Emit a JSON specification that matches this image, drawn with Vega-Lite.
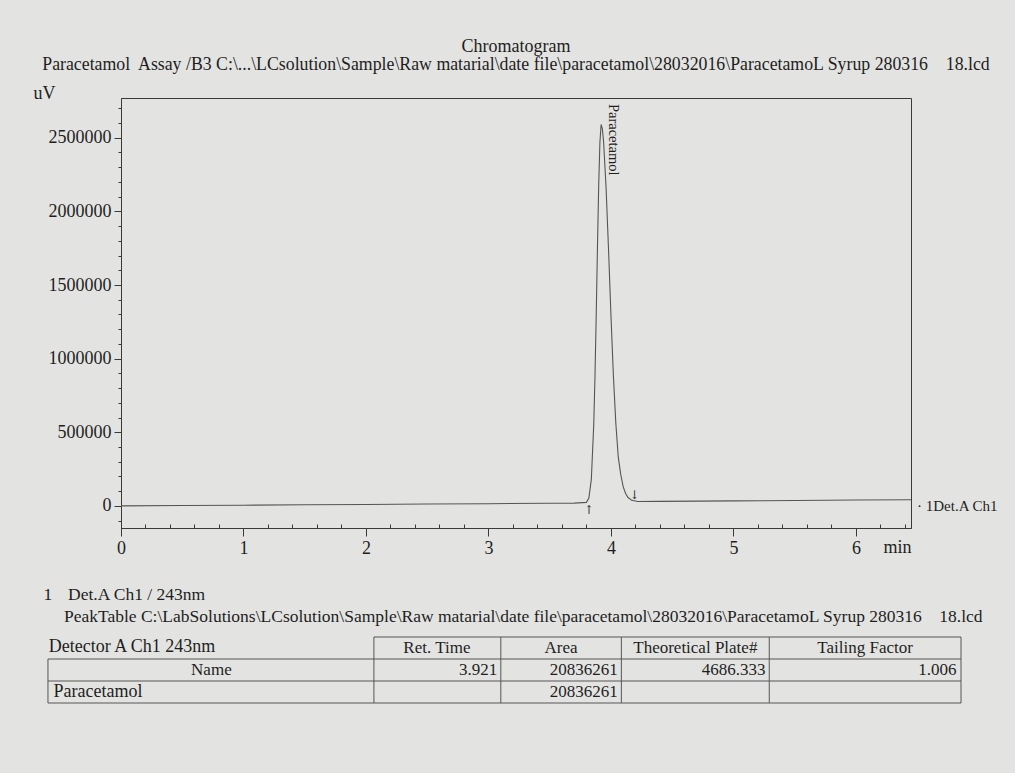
{
  "$schema": "https://vega.github.io/schema/vega-lite/v6.json",
  "background": "#e3e4e2",
  "padding": {"left": 32, "top": 37, "right": 16, "bottom": 27},
  "spacing": 28,
  "config": {
    "font": "Liberation Serif",
    "view": {"stroke": "#3a3a3a", "strokeWidth": 1},
    "axis": {"labelFont": "Liberation Serif", "labelFontSize": 18, "labelColor": "#1e1e1e", "titleFont": "Liberation Serif", "titleFontSize": 18, "titleFontWeight": "normal", "titleColor": "#1e1e1e", "domainColor": "#3a3a3a", "tickColor": "#3a3a3a", "grid": false},
    "title": {"font": "Liberation Serif", "fontSize": 18, "fontWeight": "normal", "color": "#1e1e1e", "subtitleFont": "Liberation Serif", "subtitleFontSize": 17.8, "subtitleColor": "#1e1e1e"}
  },
  "datasets": {
    "chrom": [
      {"t": 0, "uV": 0}, {"t": 0.5, "uV": 3000}, {"t": 1, "uV": 5000}, {"t": 1.5, "uV": 8000},
      {"t": 2, "uV": 10000}, {"t": 2.5, "uV": 13000}, {"t": 3, "uV": 15000}, {"t": 3.5, "uV": 18000},
      {"t": 3.7, "uV": 19000}, {"t": 3.8, "uV": 24000}, {"t": 3.82, "uV": 53000}, {"t": 3.84, "uV": 180000},
      {"t": 3.86, "uV": 558000}, {"t": 3.87, "uV": 886000}, {"t": 3.88, "uV": 1298000}, {"t": 3.89, "uV": 1751000},
      {"t": 3.9, "uV": 2169000}, {"t": 3.91, "uV": 2467000}, {"t": 3.92, "uV": 2590000}, {"t": 3.93, "uV": 2560000},
      {"t": 3.94, "uV": 2475000}, {"t": 3.96, "uV": 2170000}, {"t": 3.98, "uV": 1752000}, {"t": 4.0, "uV": 1300000},
      {"t": 4.02, "uV": 888000}, {"t": 4.04, "uV": 561000}, {"t": 4.06, "uV": 331000}, {"t": 4.08, "uV": 214000},
      {"t": 4.1, "uV": 131000}, {"t": 4.12, "uV": 84000}, {"t": 4.14, "uV": 57000}, {"t": 4.17, "uV": 38000},
      {"t": 4.22, "uV": 30000}, {"t": 4.4, "uV": 31000}, {"t": 5, "uV": 34000}, {"t": 5.5, "uV": 37000},
      {"t": 6, "uV": 40000}, {"t": 6.45, "uV": 42000}
    ],
    "marks": [
      {"t": 3.82, "uV": -25000, "sym": "↑"},
      {"t": 4.19, "uV": 75000, "sym": "↓"}
    ],
    "peaklabel": [{"t": 4.02, "uV": 2730000, "label": "Paracetamol"}],
    "chlabel": [{"t": 6.45, "uV": 42000, "label": "· 1Det.A Ch1"}],
    "tlines": [
      {"x1": 35.7, "x2": 100, "y1": 2.55, "y2": 2.55},
      {"x1": 0, "x2": 100, "y1": 3.65, "y2": 3.65},
      {"x1": 0, "x2": 100, "y1": 4.75, "y2": 4.75},
      {"x1": 0, "x2": 100, "y1": 5.85, "y2": 5.85},
      {"x1": 0, "x2": 0, "y1": 3.65, "y2": 5.85},
      {"x1": 35.7, "x2": 35.7, "y1": 2.55, "y2": 5.85},
      {"x1": 49.6, "x2": 49.6, "y1": 2.55, "y2": 5.85},
      {"x1": 62.8, "x2": 62.8, "y1": 2.55, "y2": 5.85},
      {"x1": 79.0, "x2": 79.0, "y1": 2.55, "y2": 5.85},
      {"x1": 100, "x2": 100, "y1": 2.55, "y2": 5.85}
    ],
    "tcells": [
      {"kind": "caption", "cx": -0.5, "cy": 0.45, "txt": "1"},
      {"kind": "caption", "cx": 2.2, "cy": 0.45, "txt": "Det.A Ch1 / 243nm"},
      {"kind": "caption", "cx": 1.75, "cy": 1.55, "txt": "PeakTable C:\\LabSolutions\\LCsolution\\Sample\\Raw matarial\\date file\\paracetamol\\28032016\\ParacetamoL Syrup 280316\u00a0\u00a0\u00a0 18.lcd"},
      {"kind": "label", "cx": 0.1, "cy": 3.05, "txt": "Detector A Ch1 243nm"},
      {"kind": "label", "cx": 0.6, "cy": 5.3, "txt": "Paracetamol"},
      {"kind": "header", "cx": 42.6, "cy": 3.1, "txt": "Ret. Time"},
      {"kind": "header", "cx": 56.2, "cy": 3.1, "txt": "Area"},
      {"kind": "header", "cx": 70.9, "cy": 3.1, "txt": "Theoretical Plate#"},
      {"kind": "header", "cx": 89.5, "cy": 3.1, "txt": "Tailing Factor"},
      {"kind": "header", "cx": 17.9, "cy": 4.2, "txt": "Name"},
      {"kind": "value", "cx": 49.2, "cy": 4.2, "txt": "3.921"},
      {"kind": "value", "cx": 62.4, "cy": 4.2, "txt": "20836261"},
      {"kind": "value", "cx": 78.6, "cy": 4.2, "txt": "4686.333"},
      {"kind": "value", "cx": 99.5, "cy": 4.2, "txt": "1.006"},
      {"kind": "value", "cx": 62.4, "cy": 5.3, "txt": "20836261"}
    ]
  },
  "vconcat": [
    {
      "width": 790,
      "height": 430,
      "title": {
        "text": "Chromatogram",
        "subtitle": "Paracetamol\u00a0 Assay /B3 C:\\...\\LCsolution\\Sample\\Raw matarial\\date file\\paracetamol\\28032016\\ParacetamoL Syrup 280316\u00a0\u00a0\u00a0 18.lcd",
        "anchor": "middle",
        "frame": "group",
        "offset": 10,
        "subtitlePadding": 0
      },
      "layer": [
        {
          "data": {"name": "chrom"},
          "mark": {"type": "line", "color": "#555555", "strokeWidth": 1.1},
          "encoding": {
            "x": {
              "field": "t", "type": "quantitative",
              "scale": {"domain": [0, 6.45], "nice": false, "zero": false},
              "axis": {
                "title": "min",
                "values": [0, 0.2, 0.4, 0.6, 0.8, 1, 1.2, 1.4, 1.6, 1.8, 2, 2.2, 2.4, 2.6, 2.8, 3, 3.2, 3.4, 3.6, 3.8, 4, 4.2, 4.4, 4.6, 4.8, 5, 5.2, 5.4, 5.6, 5.8, 6, 6.2, 6.4],
                "tickCount": 100,
                "tickMinStep": 0.1,
                "labelExpr": "datum.value % 1 === 0 ? format(datum.value, 'd') : ''",
                "labelOverlap": false,
                "labelFlush": false,
                "tickSize": {"condition": {"test": "datum.value % 1 === 0", "value": 8}, "value": -4},
                "labelPadding": 3,
                "titleX": 790,
                "titleY": 10,
                "titleAlign": "right",
                "titleBaseline": "top"
              }
            },
            "y": {
              "field": "uV", "type": "quantitative",
              "scale": {"domain": [-150000, 2770000], "nice": false, "zero": false},
              "axis": {
                "title": "uV",
                "titleAngle": 0,
                "titleAlign": "left",
                "titleBaseline": "middle",
                "titleX": -88,
                "titleY": -5,
                "values": [-100000, 0, 100000, 200000, 300000, 400000, 500000, 600000, 700000, 800000, 900000, 1000000, 1100000, 1200000, 1300000, 1400000, 1500000, 1600000, 1700000, 1800000, 1900000, 2000000, 2100000, 2200000, 2300000, 2400000, 2500000, 2600000, 2700000],
                "tickCount": 100,
                "format": "d",
                "labelExpr": "datum.value >= 0 && datum.value % 500000 === 0 ? datum.label : ''",
                "labelOverlap": false,
                "tickSize": {"condition": {"test": "datum.value % 500000 === 0", "value": 7}, "value": 3},
                "labelPadding": 3
              }
            }
          }
        },
        {
          "data": {"name": "marks"},
          "mark": {"type": "text", "font": "DejaVu Serif", "fontSize": 12, "color": "#333333", "baseline": "middle"},
          "encoding": {
            "x": {"field": "t", "type": "quantitative"},
            "y": {"field": "uV", "type": "quantitative"},
            "text": {"field": "sym"}
          }
        },
        {
          "data": {"name": "peaklabel"},
          "mark": {"type": "text", "angle": 90, "align": "left", "baseline": "middle", "fontSize": 14.5, "color": "#1e1e1e"},
          "encoding": {
            "x": {"field": "t", "type": "quantitative"},
            "y": {"field": "uV", "type": "quantitative"},
            "text": {"field": "label"}
          }
        },
        {
          "data": {"name": "chlabel"},
          "mark": {"type": "text", "align": "left", "baseline": "middle", "dx": 6, "dy": 6, "fontSize": 15, "color": "#1e1e1e"},
          "encoding": {
            "x": {"field": "t", "type": "quantitative"},
            "y": {"field": "uV", "type": "quantitative"},
            "text": {"field": "label"}
          }
        }
      ]
    },
    {
      "width": 840,
      "height": 160,
      "view": {"stroke": null},
      "layer": [
        {
          "data": {"name": "tlines"},
          "mark": {"type": "rule", "color": "#555555", "strokeWidth": 1},
          "encoding": {
            "x": {"field": "x1", "type": "quantitative", "scale": {"domain": [8, 100], "nice": false, "zero": false}, "axis": null},
            "x2": {"field": "x2"},
            "y": {"field": "y1", "type": "quantitative", "scale": {"domain": [0, 8], "nice": false, "zero": false, "reverse": true}, "axis": null},
            "y2": {"field": "y2"}
          }
        },
        {
          "data": {"name": "tcells"},
          "transform": [{"filter": "datum.kind === 'caption'"}],
          "mark": {"type": "text", "align": "left", "baseline": "middle", "fontSize": 17.5, "color": "#1e1e1e"},
          "encoding": {
            "x": {"field": "cx", "type": "quantitative"},
            "y": {"field": "cy", "type": "quantitative"},
            "text": {"field": "txt"}
          }
        },
        {
          "data": {"name": "tcells"},
          "transform": [{"filter": "datum.kind === 'label'"}],
          "mark": {"type": "text", "align": "left", "baseline": "middle", "fontSize": 18, "color": "#1e1e1e"},
          "encoding": {
            "x": {"field": "cx", "type": "quantitative"},
            "y": {"field": "cy", "type": "quantitative"},
            "text": {"field": "txt"}
          }
        },
        {
          "data": {"name": "tcells"},
          "transform": [{"filter": "datum.kind === 'header'"}],
          "mark": {"type": "text", "align": "center", "baseline": "middle", "fontSize": 17, "color": "#1e1e1e"},
          "encoding": {
            "x": {"field": "cx", "type": "quantitative"},
            "y": {"field": "cy", "type": "quantitative"},
            "text": {"field": "txt"}
          }
        },
        {
          "data": {"name": "tcells"},
          "transform": [{"filter": "datum.kind === 'value'"}],
          "mark": {"type": "text", "align": "right", "baseline": "middle", "fontSize": 17, "color": "#1e1e1e"},
          "encoding": {
            "x": {"field": "cx", "type": "quantitative"},
            "y": {"field": "cy", "type": "quantitative"},
            "text": {"field": "txt"}
          }
        }
      ]
    }
  ]
}
